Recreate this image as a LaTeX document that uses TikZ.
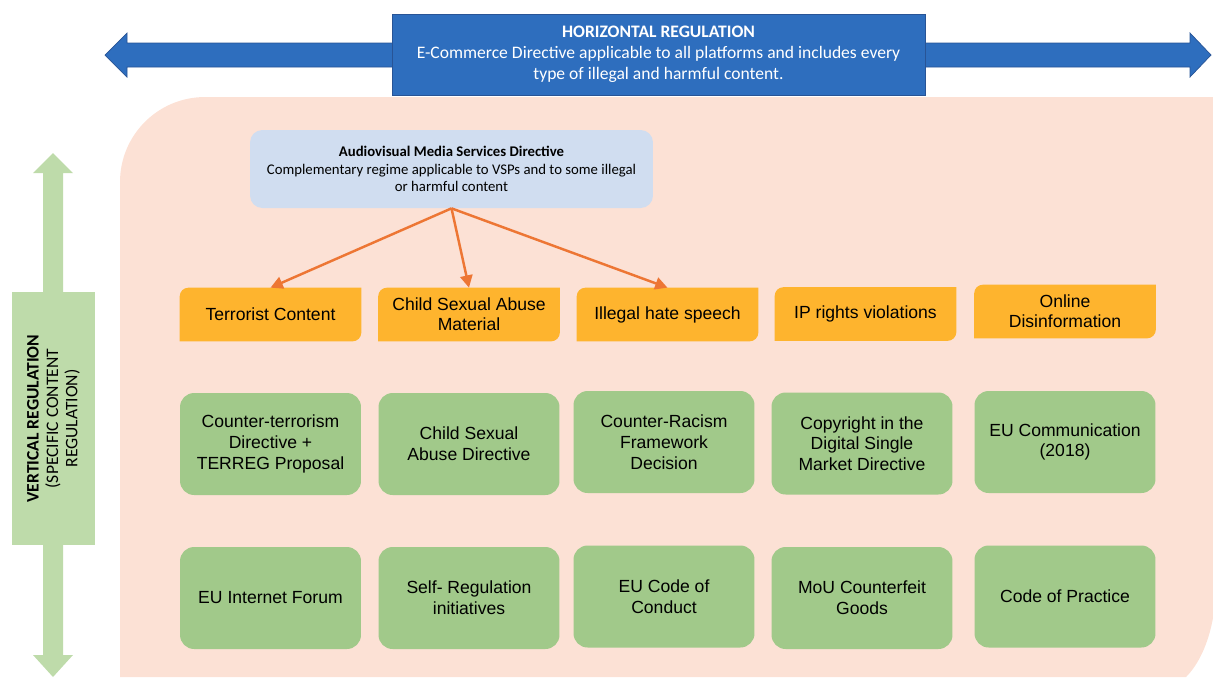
\documentclass[tikz,border=0pt]{standalone}
\usepackage{fontspec}
\setmainfont{Liberation Sans}
\newfontfamily\calibri{Carlito}
\usetikzlibrary{arrows.meta,backgrounds}

\definecolor{peachbg}{RGB}{252,225,213}
\definecolor{hblue}{RGB}{46,110,190}
\definecolor{hblueline}{RGB}{40,84,150}
\definecolor{vgreen}{RGB}{190,219,170}
\definecolor{avblue}{RGB}{208,221,240}
\definecolor{catorange}{RGB}{254,180,46}
\definecolor{lawgreen}{RGB}{161,201,138}
\definecolor{linkorange}{RGB}{237,118,52}

% fill behind a category node, round only at top left and bottom right
\newcommand{\catshape}[1]{%
  \fill[catorange] ([yshift=-5pt]#1.north west) arc[start angle=180,end angle=90,radius=5pt]
    -- (#1.north east) -- ([yshift=5pt]#1.south east)
    arc[start angle=0,end angle=-90,radius=5pt] -- (#1.south west) -- cycle;}

\begin{document}
\begin{tikzpicture}[x=0.02cm,y=-0.02cm,
  catbox/.style={minimum width=3.62cm, minimum height=1.06cm, inner sep=2pt,
    align=center, font=\fontsize{10}{11.6}\selectfont},
  lawbox/.style={fill=lawgreen, rounded corners=8pt, minimum width=3.62cm,
    minimum height=2.04cm, inner sep=2pt, align=center,
    font=\fontsize{10}{11.8}\selectfont},
  link/.style={-{Triangle[length=7pt,width=7pt]}, linkorange, line width=1.4pt}]

\useasboundingbox (0,0) rectangle (1213,677);

% Horizontal regulation -- double arrow with box on it
\fill[hblue, draw=hblueline, line width=0.4pt]
  (105,55) -- (127,33) -- (127,43) -- (1190,43) -- (1190,33) -- (1211,55)
  -- (1190,77) -- (1190,67) -- (127,67) -- (127,77) -- cycle;
\node[fill=hblue, draw=hblueline, minimum width=10.66cm, minimum height=1.62cm,
  text=white, align=center, font=\calibri\fontsize{10}{12}\selectfont]
  (hreg) at (658.5,54.5)
  {\textbf{HORIZONTAL REGULATION}\\
   E-Commerce Directive applicable to all platforms and includes every\\
   type of illegal and harmful content.};

% Vertical regulation -- double arrow with box on it
\fill[vgreen] (53,153) -- (73,173) -- (63,173) -- (63,655) -- (73,655)
  -- (53,677) -- (33,655) -- (43,655) -- (43,173) -- (33,173) -- cycle;
\node[fill=vgreen, rotate=90, minimum width=5.06cm, minimum height=1.66cm,
  align=center, font=\calibri\fontsize{10}{11}\selectfont]
  (vreg) at (53.5,418.5)
  {\textbf{VERTICAL REGULATION}\\(SPECIFIC CONTENT\\REGULATION)};

% AVMSD
\node[fill=avblue, rounded corners=7pt, minimum width=8.06cm, minimum height=1.56cm,
  align=center, font=\calibri\fontsize{8.4}{9.8}\selectfont]
  (avms) at (451.5,169)
  {\textbf{Audiovisual Media Services Directive}\\
   Complementary regime applicable to VSPs and to some illegal\\
   or harmful content};

% Content categories
\node[catbox] (terror) at (270.5,314.5) {Terrorist Content};
\node[catbox] (csam) at (469,314.5) {Child Sexual Abuse\\Material};
\node[catbox] (hate) at (667.5,314.5) {Illegal hate speech};
\node[catbox] (iprights) at (865.5,314) {IP rights violations};
\node[catbox] (disinfo) at (1065,311.5) {Online\\Disinformation};

% Legal instruments
\node[lawbox] (ctdir) at (270.5,444) {Counter-terrorism\\Directive +\\TERREG Proposal};
\node[lawbox] (csadir) at (469,444) {Child Sexual\\Abuse Directive};
\node[lawbox] (racism) at (664,442) {Counter-Racism\\Framework\\Decision};
\node[lawbox] (dsmdir) at (862,443.5) {Copyright in the\\Digital Single\\Market Directive};
\node[lawbox] (eucomm) at (1065,442) {EU Communication\\(2018)};

% Self- and co-regulation
\node[lawbox] (euforum) at (270.5,598) {EU Internet Forum};
\node[lawbox] (selfreg) at (469,598) {Self- Regulation\\initiatives};
\node[lawbox] (eucode) at (664,596.5) {EU Code of\\Conduct};
\node[lawbox] (mou) at (862,598) {MoU Counterfeit\\Goods};
\node[lawbox] (practice) at (1065,596.5) {Code of Practice};

% AVMSD applies to three categories
\draw[link] (avms.south) -- (terror.north);
\draw[link] (avms.south) -- (csam.north);
\draw[link] (avms.south) -- (hate.north);

\begin{scope}[on background layer]
  \fill[peachbg] (120,677) -- (120,182) arc[start angle=180,end angle=90,radius=1.7cm]
    -- (1213,97) -- (1213,618) .. controls (1208,645) and (1198,665) .. (1186,677) -- cycle;
  \catshape{terror}
  \catshape{csam}
  \catshape{hate}
  \catshape{iprights}
  \catshape{disinfo}
\end{scope}

\end{tikzpicture}
\end{document}
